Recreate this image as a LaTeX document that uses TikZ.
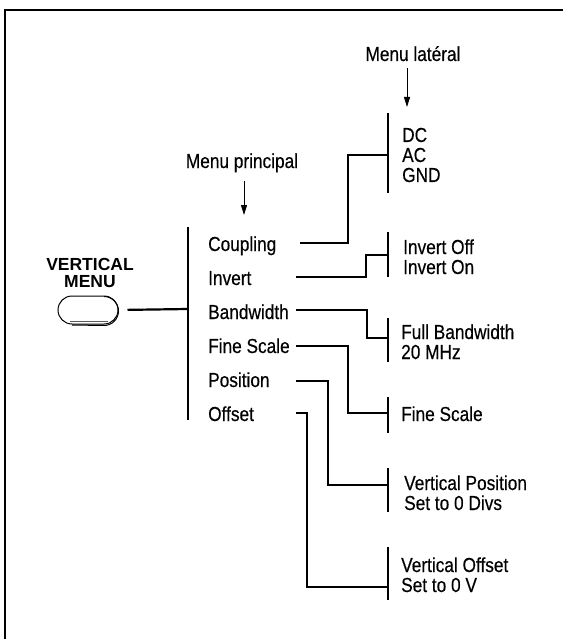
\documentclass[tikz,border=0pt]{standalone}
\usepackage{fontspec}
\setmainfont{Liberation Sans}
\newfontfamily\narrowfont{Liberation Sans}[FakeStretch=0.85,FakeBold=0.35]
\usetikzlibrary{arrows.meta}
\begin{document}
\begin{tikzpicture}[x=1pt,y=-1pt,
  lbl/.style={font=\narrowfont\fontsize{20.3}{20}\selectfont, inner sep=0pt, anchor=base west},
  hdr/.style={font=\narrowfont\fontsize{20.3}{20}\selectfont, inner sep=0pt, anchor=base},
  btnlbl/.style={font=\fontsize{17.5}{18}\selectfont\bfseries, inner sep=0pt, anchor=base},
  brk/.style={line width=2.8pt},
  con/.style={line width=2.2pt},
  pointer/.style={line width=1pt, -{Triangle[length=10pt,width=6pt]}},
  frame/.style={line width=1.2pt}]
\useasboundingbox (0,0) rectangle (563,639);
\draw[frame] (5,639) -- (5,10) -- (563,10);

% headers
\node[hdr] (hlat) at (413,61) {Menu latéral};
\node[hdr] (hpri) at (242,168) {Menu principal};
\coordinate (alat) at (407,107);
\coordinate (apri) at (244,215);
\draw[pointer, shorten <=7pt] (hlat.south -| alat) -- (alat);
\draw[pointer, shorten <=9pt] (hpri.south -| apri) -- (apri);

% button
\node[btnlbl] (vt) at (90,270) {VERTICAL};
\node[btnlbl] (vm) at (90,287) {MENU};
\node[draw, line width=1pt, minimum width=60pt, minimum height=28pt, rounded corners=14pt, inner sep=0pt] (btn) at (88,310) {};
\draw[line width=1pt] (104,296.5) arc[start angle=90, end angle=-90, radius=14.5pt] -- (72,325);
\draw[line width=1.8pt, gray!70!black] (70,321.5) -- (108,321.5);

% main menu bracket
\coordinate (mt) at (188,227);
\coordinate (mb) at (188,420);
\coordinate (mc) at (188,309);
\draw[brk] (mt) -- (mb);
\draw[con, shorten <=9pt] (btn.east) -- (mc);

% main menu items
\node[lbl] (m1) at (208,251) {Coupling};
\node[lbl] (m2) at (208,285) {Invert};
\node[lbl] (m3) at (208,319) {Bandwidth};
\node[lbl] (m4) at (208,353) {Fine Scale};
\node[lbl] (m5) at (208,387) {Position};
\node[lbl] (m6) at (208,421) {Offset};

% side brackets
\draw[brk] (388,113) coordinate (s1t) -- (388,193) coordinate (s1b);
\draw[brk] (388,232) coordinate (s2t) -- (388,277) coordinate (s2b);
\draw[brk] (388,318) coordinate (s3t) -- (388,362) coordinate (s3b);
\draw[brk] (388,397) coordinate (s4t) -- (388,433) coordinate (s4b);
\draw[brk] (388,468) coordinate (s5t) -- (388,512) coordinate (s5b);
\draw[brk] (388,547) coordinate (s6t) -- (388,600) coordinate (s6b);

% side texts
\node[lbl] (t1a) at (402,142) {DC};
\node[lbl] (t1b) at (402,162) {AC};
\node[lbl] (t1c) at (402,182) {GND};
\node[lbl] (t2a) at (403,254) {Invert Off};
\node[lbl] (t2b) at (403,274) {Invert On};
\node[lbl] (t3a) at (401,339) {Full Bandwidth};
\node[lbl] (t3b) at (401,359) {20 MHz};
\node[lbl] (t4a) at (401,421) {Fine Scale};
\node[lbl] (t5a) at (404,490) {Vertical Position};
\node[lbl] (t5b) at (404,510) {Set to 0 Divs};
\node[lbl] (t6a) at (401,572) {Vertical Offset};
\node[lbl] (t6b) at (401,592) {Set to 0 V};

% connector end points
\coordinate (c1) at (300,243); \coordinate (k1) at (348,155); \coordinate (b1) at (388,155);
\coordinate (c2) at (296,277); \coordinate (k2) at (366,255); \coordinate (b2) at (388,255);
\coordinate (c3) at (296,310); \coordinate (k3) at (367,338); \coordinate (b3) at (388,338);
\coordinate (c4) at (296,346); \coordinate (k4) at (348,413); \coordinate (b4) at (388,413);
\coordinate (c5) at (296,381); \coordinate (k5) at (328,485); \coordinate (b5) at (388,485);
\coordinate (c6) at (296,413); \coordinate (k6) at (307,587); \coordinate (b6) at (388,587);

\draw[con] (c1) -| (k1) -- (b1);
\draw[con] (c2) -| (k2) -- (b2);
\draw[con] (c3) -| (k3) -- (b3);
\draw[con] (c4) -| (k4) -- (b4);
\draw[con] (c5) -| (k5) -- (b5);
\draw[con] (c6) -| (k6) -- (b6);
\end{tikzpicture}
\end{document}
